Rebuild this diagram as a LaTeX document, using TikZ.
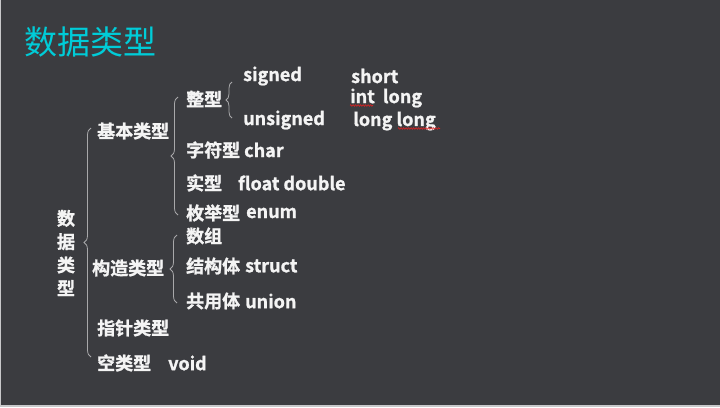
\documentclass[tikz,border=0pt]{standalone}
\usepackage{fontspec}
\setmainfont{Noto Sans CJK SC}[BoldFont={Noto Sans CJK SC Bold}, BoldFeatures={FakeBold=1.2}]
\usetikzlibrary{decorations.pathreplacing,decorations.pathmorphing}
\definecolor{bg}{HTML}{3B3C40}
\definecolor{edge}{HTML}{C8C8CA}
\definecolor{titlec}{HTML}{00CCD8}
\definecolor{txt}{HTML}{F4F4F4}
\definecolor{bracec}{HTML}{A8A8AA}
\definecolor{wavec}{HTML}{E02020}
\tikzset{
  lbl/.style={anchor=west, inner sep=0pt, text=txt, font=\fontsize{18}{20}\selectfont\bfseries},
  br/.style={draw=bracec, line width=0.8pt, decorate, decoration={brace, amplitude=#1}},
  wave/.style={draw=wavec, line width=0.6pt, decorate, decoration={zigzag, amplitude=0.8pt, segment length=2.5pt}}
}
\begin{document}
\begin{tikzpicture}[x=1pt,y=-1pt]
\useasboundingbox (0,0) rectangle (720,407);
\fill[bg] (0,0) rectangle (720,407);
\fill[edge] (0,0) rectangle (1.2,407);
\fill[edge] (0,404.5) rectangle (720,407);

% title
\node[anchor=west, inner sep=0pt, text=titlec, font=\fontsize{33}{36}\selectfont] (title) at (24,42) {数据类型};

% root vertical label
\node[inner sep=0pt, text=txt, align=center, font=\fontsize{18}{23.3}\selectfont\bfseries] (root) at (66,253) {数\\据\\类\\型};

% level 1
\node[lbl] (basic) at (97,131) {基本类型};
\node[lbl] (cons) at (92,268) {构造类型};
\node[lbl] (ptr) at (97,328) {指针类型};
\node[lbl] (empty) at (97,363) {空类型};
\node[lbl] (void) at (168,363) {void};

% level 2 basic
\node[lbl] (int) at (186,99) {整型};
\node[lbl] (chr) at (186,150) {字符型};
\node[lbl] (chrk) at (244,150) {char};
\node[lbl] (real) at (186,183) {实型};
\node[lbl] (realk) at (238,183) {float double};
\node[lbl] (enm) at (186,213) {枚举型};
\node[lbl] (enmk) at (246,213) {enum};

% level 3 int
\node[lbl] (sgn) at (243,76) {signed};
\node[lbl] (usg) at (243,120) {unsigned};
\node[lbl] (short) at (351,76) {short};
\node[lbl] (intlong) at (350,98) {int\hspace{0.45em}long};
\node[lbl] (longlong) at (353,121) {long long};

% level 2 constructed
\node[lbl] (arr) at (186,236) {数组};
\node[lbl] (st) at (186,266) {结构体};
\node[lbl] (stk) at (245,266) {struct};
\node[lbl] (un) at (186,301) {共用体};
\node[lbl] (unk) at (245,301) {union};

% braces
\coordinate (b1a) at (91,357);
\coordinate (b1b) at (91,128);
\draw[br=7pt] (b1a) -- (b1b);
\coordinate (b2a) at (178,215);
\coordinate (b2b) at (178,97);
\draw[br=7pt] (b2a) -- (b2b);
\coordinate (b3a) at (232,118);
\coordinate (b3b) at (232,82);
\draw[br=6pt] (b3a) -- (b3b);
\coordinate (b4a) at (177,303);
\coordinate (b4b) at (177,235);
\draw[br=7pt] (b4a) -- (b4b);

% spell-check wavy underlines
\coordinate (w1a) at (350,105.5);
\coordinate (w1b) at (373,105.5);
\draw[wave] (w1a) -- (w1b);
\coordinate (w2a) at (398,128.5);
\coordinate (w2b) at (440,128.5);
\draw[wave] (w2a) -- (w2b);
\end{tikzpicture}
\end{document}
